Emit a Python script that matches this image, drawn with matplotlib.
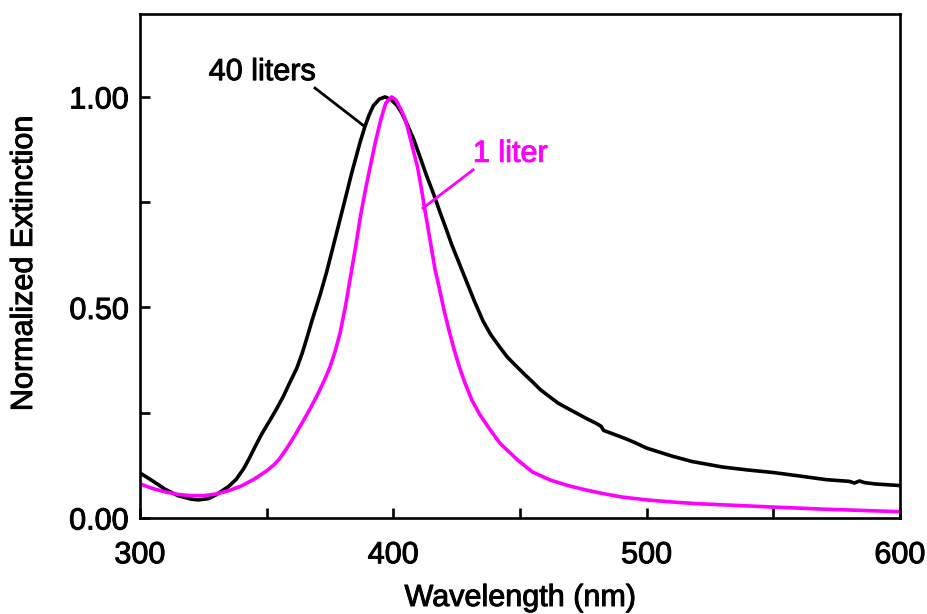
import matplotlib
matplotlib.use("Agg")
import matplotlib.pyplot as plt
import matplotlib.patheffects as pe

# Normalized extinction spectra for two preparation volumes
wl_40 = [300, 305, 310, 315, 320, 323, 327, 330, 335, 338, 341, 343, 345.4,
         348, 351.3, 354, 356.6, 359, 361.9, 364, 365.8, 368, 371.1, 373.7,
         375.7, 377.6, 379.5, 381.6, 383.5, 385.5, 387, 388.8, 390.5, 392.1,
         394.5, 396.7, 399, 401.3, 403.3, 405.3, 408, 410.5, 413, 415.8,
         418.5, 421, 423, 425, 427, 429, 432, 435.4, 438.5, 442, 445, 448.8,
         452, 455, 458, 461.9, 465, 468.6, 472, 476, 480, 482, 483, 487, 491,
         495, 500, 510, 518, 530, 540, 550, 560, 571, 580, 582, 584, 586, 590,
         600]
ext_40 = [0.107, 0.088, 0.068, 0.053, 0.045, 0.043, 0.046, 0.055, 0.075, 0.092,
          0.118, 0.140, 0.169, 0.199, 0.232, 0.260, 0.289, 0.320, 0.356, 0.391,
          0.426, 0.471, 0.530, 0.585, 0.632, 0.677, 0.722, 0.772, 0.818, 0.862,
          0.895, 0.930, 0.958, 0.979, 0.995, 1.000, 0.994, 0.981, 0.962, 0.937,
          0.900, 0.858, 0.815, 0.771, 0.725, 0.684, 0.650, 0.620, 0.590, 0.560,
          0.515, 0.468, 0.435, 0.406, 0.382, 0.359, 0.340, 0.323, 0.305, 0.287,
          0.273, 0.261, 0.250, 0.237, 0.225, 0.218, 0.208, 0.199, 0.190, 0.180,
          0.166, 0.147, 0.134, 0.121, 0.114, 0.108, 0.100, 0.091, 0.087, 0.083,
          0.088, 0.084, 0.081, 0.077]

wl_1 = [300, 305, 310, 315, 320, 325, 330, 335, 340, 345, 350, 353, 355, 358,
        361, 364, 367, 370, 373, 375, 377, 379, 381, 383, 385, 387, 389, 391,
        393, 395, 397, 399.3, 401, 403, 404.5, 406, 408, 409.5, 411, 412.5,
        414.5, 416.5, 418, 420, 422, 424, 426, 428, 431, 434, 437, 442, 449,
        455, 462, 469, 475, 482, 490, 500, 510, 520, 535, 550, 570, 585, 600]
ext_1 = [0.081, 0.070, 0.062, 0.056, 0.053, 0.053, 0.057, 0.065, 0.076, 0.092,
         0.112, 0.127, 0.140, 0.166, 0.195, 0.226, 0.258, 0.292, 0.330, 0.359,
         0.395, 0.440, 0.500, 0.570, 0.640, 0.716, 0.780, 0.838, 0.895, 0.945,
         0.985, 1.000, 0.993, 0.970, 0.950, 0.918, 0.870, 0.835, 0.785, 0.730,
         0.660, 0.589, 0.550, 0.494, 0.445, 0.400, 0.360, 0.325, 0.280, 0.247,
         0.220, 0.178, 0.138, 0.109, 0.090, 0.077, 0.068, 0.059, 0.050, 0.043,
         0.038, 0.034, 0.030, 0.026, 0.021, 0.018, 0.015]

x_ticks = [300, 400, 500, 600]
x_minor = [350, 450, 550]
y_ticks = [0.0, 0.5, 1.0]
y_tick_labels = ["0.00", "0.50", "1.00"]
y_minor = [0.25, 0.75]

MAGENTA = "#FF00FF"
FONT = "Liberation Sans"
FS = 22

plt.rcParams["font.family"] = [FONT, "DejaVu Sans"]


def heavy(color):
    return [pe.withStroke(linewidth=0.7, foreground=color)]


fig = plt.figure(figsize=(9.28, 6.14), dpi=100)
ax = fig.add_axes([140 / 928, 1 - 518 / 614, 760 / 928, 504 / 614])

ax.plot(wl_40, ext_40, color="black", lw=2.6, solid_joinstyle="round")
ax.plot(wl_1, ext_1, color=MAGENTA, lw=2.6, solid_joinstyle="round")

ax.set_xlim(300, 600)
ax.set_ylim(0, 1.197)

ax.set_xticks(x_ticks)
ax.set_xticks(x_minor, minor=True)
ax.set_yticks(y_ticks)
ax.set_yticklabels(y_tick_labels)
ax.set_yticks(y_minor, minor=True)
ax.tick_params(which="both", direction="in", length=7, width=1.9)
ax.tick_params(axis="x", which="both", pad=16, labelsize=FS)
ax.tick_params(axis="y", which="both", pad=8, labelsize=FS)
for lab in ax.get_xticklabels() + ax.get_yticklabels():
    lab.set_path_effects(heavy("black"))

for sp in ax.spines.values():
    sp.set_linewidth(1.9)

# Curve labels with leader lines
ax.text(348.2, 1.059, "40 liters", fontsize=FS, ha="center", va="center",
        color="black", path_effects=heavy("black"))
ax.plot([369.1, 388.0], [1.021, 0.933], color="black", lw=2.0)
ax.text(446.1, 0.865, "1 liter", fontsize=FS, ha="center", va="center",
        color=MAGENTA, path_effects=heavy(MAGENTA))
ax.plot([431.5, 411.7], [0.827, 0.736], color=MAGENTA, lw=2.0)

fig.text(520 / 928, 1 - 598 / 614, "Wavelength (nm)", fontsize=FS,
         ha="center", va="center", path_effects=heavy("black"))
fig.text(24 / 928, 1 - 264 / 614, "Normalized Extinction", fontsize=FS,
         ha="center", va="center", rotation=90, path_effects=heavy("black"))

fig.savefig("out.png", dpi=100)
